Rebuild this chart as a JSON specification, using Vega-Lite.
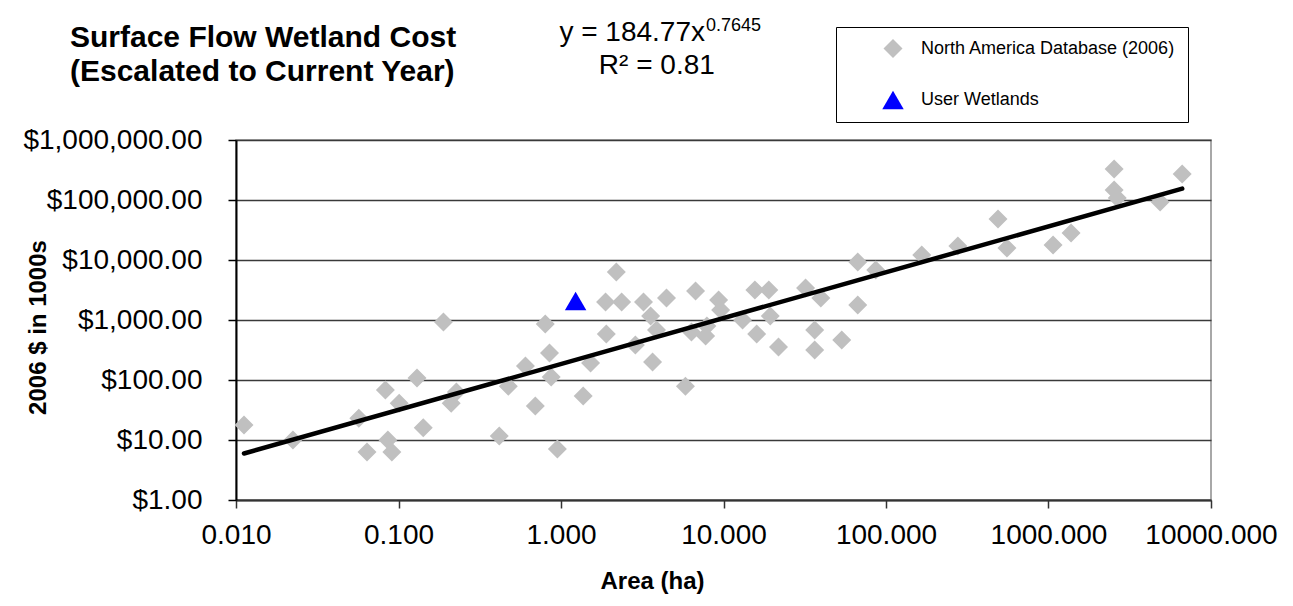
{
  "$schema": "https://vega.github.io/schema/vega-lite/v6.json",
  "width": 975,
  "height": 360,
  "autosize": "none",
  "padding": {"left": 236, "top": 140, "right": 82, "bottom": 106},
  "background": "white",
  "config": {
    "font": "Liberation Sans",
    "view": {"stroke": "#8c8c8c", "strokeWidth": 1.5}
  },
  "title": {
    "text": ["Surface Flow Wetland Cost", "(Escalated to Current Year)"],
    "anchor": "start",
    "frame": "group",
    "baseline": "top",
    "fontSize": 30,
    "fontWeight": "bold",
    "color": "#000000",
    "lineHeight": 34,
    "dx": -166,
    "dy": 70,
    "offset": 0
  },
  "datasets": {
    "points": [
      {"series": "North America Database (2006)", "area": 0.0112, "cost": 17.8},
      {"series": "North America Database (2006)", "area": 0.0224, "cost": 10},
      {"series": "North America Database (2006)", "area": 0.057, "cost": 23},
      {"series": "North America Database (2006)", "area": 0.064, "cost": 6.3},
      {"series": "North America Database (2006)", "area": 0.083, "cost": 68},
      {"series": "North America Database (2006)", "area": 0.086, "cost": 10},
      {"series": "North America Database (2006)", "area": 0.091, "cost": 6.3},
      {"series": "North America Database (2006)", "area": 0.101, "cost": 41},
      {"series": "North America Database (2006)", "area": 0.13, "cost": 108},
      {"series": "North America Database (2006)", "area": 0.142, "cost": 16},
      {"series": "North America Database (2006)", "area": 0.189, "cost": 926},
      {"series": "North America Database (2006)", "area": 0.211, "cost": 41},
      {"series": "North America Database (2006)", "area": 0.227, "cost": 63},
      {"series": "North America Database (2006)", "area": 0.417, "cost": 11.7},
      {"series": "North America Database (2006)", "area": 0.474, "cost": 79},
      {"series": "North America Database (2006)", "area": 0.604, "cost": 171},
      {"series": "North America Database (2006)", "area": 0.695, "cost": 37},
      {"series": "North America Database (2006)", "area": 0.8, "cost": 858},
      {"series": "North America Database (2006)", "area": 0.85, "cost": 282},
      {"series": "North America Database (2006)", "area": 0.87, "cost": 112},
      {"series": "North America Database (2006)", "area": 0.95, "cost": 7.1},
      {"series": "North America Database (2006)", "area": 1.37, "cost": 54},
      {"series": "North America Database (2006)", "area": 1.52, "cost": 192},
      {"series": "North America Database (2006)", "area": 1.88, "cost": 1995},
      {"series": "North America Database (2006)", "area": 1.9, "cost": 585},
      {"series": "North America Database (2006)", "area": 2.19, "cost": 6300},
      {"series": "North America Database (2006)", "area": 2.36, "cost": 2000},
      {"series": "North America Database (2006)", "area": 2.87, "cost": 383},
      {"series": "North America Database (2006)", "area": 3.22, "cost": 2000},
      {"series": "North America Database (2006)", "area": 3.56, "cost": 1166},
      {"series": "North America Database (2006)", "area": 3.66, "cost": 200},
      {"series": "North America Database (2006)", "area": 3.87, "cost": 681},
      {"series": "North America Database (2006)", "area": 4.46, "cost": 2327},
      {"series": "North America Database (2006)", "area": 5.83, "cost": 79},
      {"series": "North America Database (2006)", "area": 6.35, "cost": 631},
      {"series": "North America Database (2006)", "area": 6.73, "cost": 3044},
      {"series": "North America Database (2006)", "area": 7.76, "cost": 541},
      {"series": "North America Database (2006)", "area": 7.9, "cost": 794},
      {"series": "North America Database (2006)", "area": 9.33, "cost": 2154},
      {"series": "North America Database (2006)", "area": 9.6, "cost": 1468},
      {"series": "North America Database (2006)", "area": 13.1, "cost": 1000},
      {"series": "North America Database (2006)", "area": 15.6, "cost": 3162},
      {"series": "North America Database (2006)", "area": 16, "cost": 585},
      {"series": "North America Database (2006)", "area": 19, "cost": 3162},
      {"series": "North America Database (2006)", "area": 19.4, "cost": 1166},
      {"series": "North America Database (2006)", "area": 21.8, "cost": 355},
      {"series": "North America Database (2006)", "area": 32, "cost": 3415},
      {"series": "North America Database (2006)", "area": 36.4, "cost": 681},
      {"series": "North America Database (2006)", "area": 36.4, "cost": 316},
      {"series": "North America Database (2006)", "area": 39.7, "cost": 2327},
      {"series": "North America Database (2006)", "area": 53.4, "cost": 464},
      {"series": "North America Database (2006)", "area": 67, "cost": 1778},
      {"series": "North America Database (2006)", "area": 67, "cost": 9260},
      {"series": "North America Database (2006)", "area": 86.5, "cost": 6813},
      {"series": "North America Database (2006)", "area": 166, "cost": 12100},
      {"series": "North America Database (2006)", "area": 277, "cost": 17100},
      {"series": "North America Database (2006)", "area": 489, "cost": 48200},
      {"series": "North America Database (2006)", "area": 555, "cost": 15800},
      {"series": "North America Database (2006)", "area": 1067, "cost": 17800},
      {"series": "North America Database (2006)", "area": 1377, "cost": 28200},
      {"series": "North America Database (2006)", "area": 2535, "cost": 328500},
      {"series": "North America Database (2006)", "area": 2535, "cost": 147000},
      {"series": "North America Database (2006)", "area": 2650, "cost": 108000},
      {"series": "North America Database (2006)", "area": 4864, "cost": 92700},
      {"series": "North America Database (2006)", "area": 6650, "cost": 271000},
      {"series": "User Wetlands", "area": 1.23, "cost": 2073}
    ],
    "trend": [
      {"area": 0.0112, "cost": 5.96},
      {"area": 6650, "cost": 154500}
    ]
  },
  "layer": [
    {
      "data": {"name": "points"},
      "mark": {"type": "point", "filled": true, "opacity": 1, "strokeWidth": 0},
      "encoding": {
        "x": {
          "field": "area", "type": "quantitative",
          "scale": {"type": "log", "domain": [0.01, 10000], "nice": false},
          "axis": {
            "title": "Area (ha)",
            "values": [0.01, 0.1, 1, 10, 100, 1000, 10000],
            "format": ".3f",
            "grid": false,
            "labelFontSize": 28,
            "labelColor": "#000000",
            "labelPadding": 13,
            "labelFlush": false,
            "labelOverlap": false,
            "tickSize": 8,
            "tickColor": "#333333",
            "tickWidth": 1.5,
            "domainColor": "#333333",
            "domainWidth": 2,
            "titleFontSize": 24,
            "titleFontWeight": "bold",
            "titleColor": "#000000",
            "titleX": 416,
            "titleY": 88,
            "titleAlign": "center",
            "titleBaseline": "alphabetic"
          }
        },
        "y": {
          "field": "cost", "type": "quantitative",
          "scale": {"type": "log", "domain": [1, 1000000], "nice": false},
          "axis": {
            "title": "2006 $ in 1000s",
            "values": [1, 10, 100, 1000, 10000, 100000, 1000000],
            "format": "$,.2f",
            "labelFontSize": 28,
            "labelColor": "#000000",
            "labelPadding": 26,
            "labelOverlap": false,
            "labelFlush": false,
            "tickSize": 8,
            "tickColor": "#000000",
            "tickWidth": 1.5,
            "domainColor": "#000000",
            "domainWidth": 2,
            "gridColor": "#3a3a3a",
            "gridWidth": 1.4,
            "titleFontSize": 24,
            "titleFontWeight": "bold",
            "titleColor": "#000000",
            "titleAngle": -90,
            "titleX": -198,
            "titleY": 187,
            "titleAlign": "center",
            "titleBaseline": "middle"
          }
        },
        "color": {
          "field": "series", "type": "nominal",
          "scale": {"domain": ["North America Database (2006)", "User Wetlands"], "range": ["#c0c0c0", "#0000ff"]},
          "legend": {
            "title": null,
            "orient": "none",
            "legendX": 600,
            "legendY": -113,
            "strokeColor": "#000000",
            "padding": 12,
            "labelFontSize": 18,
            "labelColor": "#000000",
            "labelLimit": 500,
            "symbolOffset": 34,
            "labelOffset": 17,
            "rowPadding": 31,
            "symbolStrokeWidth": 0,
            "encode": {"symbols": {"update": {"size": {"value": 100}}}}
          }
        },
        "shape": {
          "field": "series", "type": "nominal",
          "scale": {"domain": ["North America Database (2006)", "User Wetlands"], "range": ["diamond", "triangle-up"]}
        },
        "size": {
          "field": "series", "type": "nominal",
          "scale": {"domain": ["North America Database (2006)", "User Wetlands"], "range": [361, 460]},
          "legend": null
        }
      }
    },
    {
      "data": {"name": "trend"},
      "mark": {"type": "line", "color": "#000000", "strokeWidth": 4.5, "strokeCap": "round"},
      "encoding": {
        "x": {"field": "area", "type": "quantitative"},
        "y": {"field": "cost", "type": "quantitative"}
      }
    },
    {
      "data": {"values": [{}]},
      "mark": {"type": "text", "text": "y = 184.77x", "align": "right", "baseline": "alphabetic", "fontSize": 28, "color": "#000000"},
      "encoding": {"x": {"datum": 7.69}, "y": {"datum": 44700000}}
    },
    {
      "data": {"values": [{}]},
      "mark": {"type": "text", "text": "0.7645", "align": "left", "baseline": "alphabetic", "fontSize": 18, "color": "#000000"},
      "encoding": {"x": {"datum": 7.8}, "y": {"datum": 65600000}}
    },
    {
      "data": {"values": [{}]},
      "mark": {"type": "text", "text": "R² = 0.81", "align": "left", "baseline": "alphabetic", "fontSize": 28, "color": "#000000"},
      "encoding": {"x": {"datum": 1.71}, "y": {"datum": 12600000}}
    }
  ]
}
